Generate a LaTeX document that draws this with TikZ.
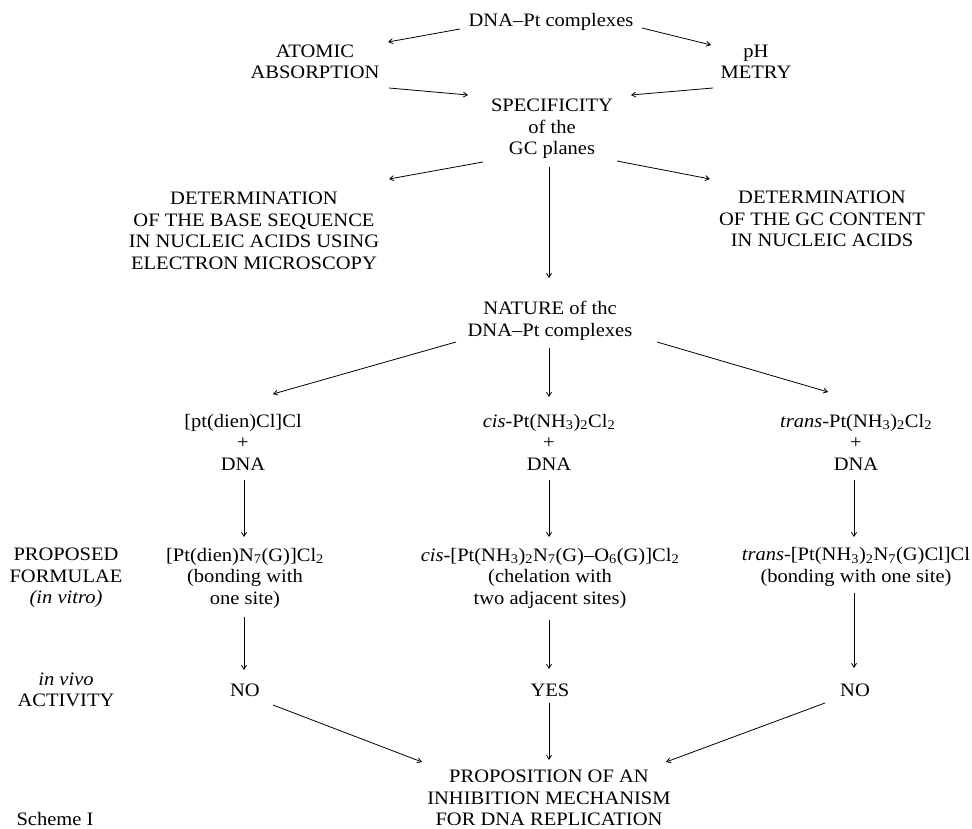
\documentclass[tikz,border=0pt]{standalone}
\usepackage{fontspec}
\setmainfont[FakeStretch=1.08]{Liberation Serif}
\usetikzlibrary{arrows.meta}
\newcommand{\sbs}[1]{\textsubscript{#1}}
\begin{document}
\begin{tikzpicture}[x=1pt,y=-1pt,
  lbl/.style={align=center,inner sep=0pt,font=\fontsize{19}{21.5}\selectfont},
  arr/.style={-{Straight Barb[length=4pt,width=5pt]},line width=0.8pt}]
\fill[white] (0,0) rectangle (972,829);
\useasboundingbox (0,0) rectangle (972,829);
% nodes
\node[lbl] (dna) at (551,22) {DNA--Pt complexes};
\node[lbl] (atomic) at (315,62) {ATOMIC\\ABSORPTION};
\node[lbl] (ph) at (756,62) {pH\\METRY};
\node[lbl] (spec) at (552,129) {SPECIFICITY\\of the\\GC planes};
\node[lbl] (detL) at (254,231) {DETERMINATION\\OF THE BASE SEQUENCE\\IN NUCLEIC ACIDS USING\\ELECTRON MICROSCOPY};
\node[lbl] (detR) at (822,219) {DETERMINATION\\OF THE GC CONTENT\\IN NUCLEIC ACIDS};
\node[lbl] (nature) at (550,321) {NATURE of thc\\DNA--Pt complexes};
\node[lbl] (c1) at (243,442) {[pt(dien)Cl]Cl\\+\\DNA};
\node[lbl] (c2) at (549,442) {\textit{cis}-Pt(NH\sbs{3})\sbs{2}Cl\sbs{2}\\+\\DNA};
\node[lbl] (c3) at (856,442) {\textit{trans}-Pt(NH\sbs{3})\sbs{2}Cl\sbs{2}\\+\\DNA};
\node[lbl] (propl) at (66,578) {PROPOSED\\FORMULAE\\\textit{(in vitro)}};
\node[lbl] (f1) at (245,578) {[Pt(dien)N\sbs{7}(G)]Cl\sbs{2}\\(bonding with\\one site)};
\node[lbl] (f2) at (550,578) {\textit{cis}-[Pt(NH\sbs{3})\sbs{2}N\sbs{7}(G)--O\sbs{6}(G)]Cl\sbs{2}\\(chelation with\\two adjacent sites)};
\node[lbl] (f3) at (856,567) {\textit{trans}-[Pt(NH\sbs{3})\sbs{2}N\sbs{7}(G)Cl]Cl\\(bonding with one site)};
\node[lbl] (actl) at (66,690) {\textit{in vivo}\\ACTIVITY};
\node[lbl] (no1) at (245,690) {NO};
\node[lbl] (yes) at (550,690) {YES};
\node[lbl] (no3) at (855,690) {NO};
\node[lbl] (prop) at (549,798) {PROPOSITION OF AN\\INHIBITION MECHANISM\\FOR DNA REPLICATION};
\node[lbl] (scheme) at (55,819) {Scheme I};
% connectors
\draw[arr] ([shift={(-91,7)}]dna.center) -- ([shift={(73,-20)}]atomic.center);
\draw[arr] ([shift={(91,6)}]dna.center) -- ([shift={(-45,-17)}]ph.center);
\draw[arr] ([shift={(74,26)}]atomic.center) -- ([shift={(-84,-34)}]spec.center);
\draw[arr] ([shift={(-43,26)}]ph.center) -- ([shift={(79,-34)}]spec.center);
\draw[arr] ([shift={(-69,33)}]spec.center) -- ([shift={(135,-52)}]detL.center);
\draw[arr] ([shift={(65,32)}]spec.center) -- ([shift={(-112,-40)}]detR.center);
\draw[arr] ([shift={(-3,38)}]spec.center) -- ([shift={(-1,-43)}]nature.center);
\draw[arr] ([shift={(-94,21)}]nature.center) -- ([shift={(30,-48)}]c1.center);
\draw[arr] ([shift={(-1,27)}]nature.center) -- ([shift={(0,-45)}]c2.center);
\draw[arr] ([shift={(107,21)}]nature.center) -- ([shift={(-28,-50)}]c3.center);
\draw[arr] ([shift={(1,38)}]c1.center) -- ([shift={(-1,-41)}]f1.center);
\draw[arr] ([shift={(0,38)}]c2.center) -- ([shift={(-1,-41)}]f2.center);
\draw[arr] ([shift={(-2,38)}]c3.center) -- ([shift={(-2,-30)}]f3.center);
\draw[arr] ([shift={(-1,39)}]f1.center) -- ([shift={(-1,-20)}]no1.center);
\draw[arr] ([shift={(-1,42)}]f2.center) -- ([shift={(-1,-21)}]yes.center);
\draw[arr] ([shift={(-2,26)}]f3.center) -- ([shift={(-1,-22)}]no3.center);
\draw[arr] ([shift={(28,15)}]no1.center) -- ([shift={(-127,-36)}]prop.center);
\draw[arr] ([shift={(-1,13)}]yes.center) -- ([shift={(0,-38)}]prop.center);
\draw[arr] ([shift={(-30,13)}]no3.center) -- ([shift={(117,-36)}]prop.center);
\end{tikzpicture}
\end{document}
